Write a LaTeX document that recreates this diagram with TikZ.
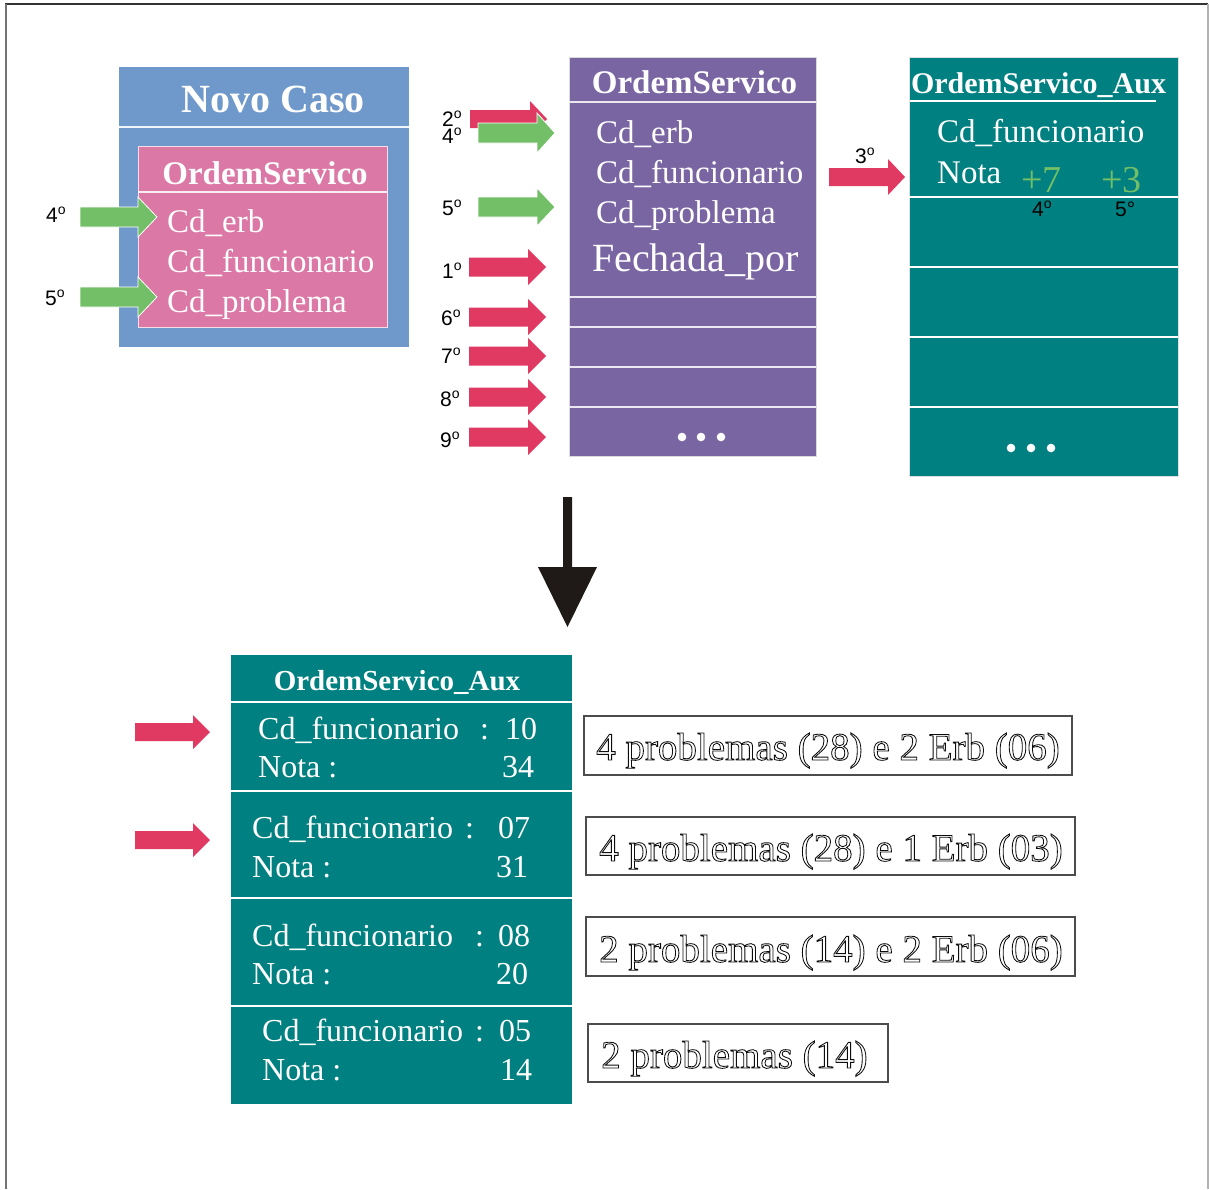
\documentclass[tikz,border=0pt]{standalone}
\usepackage{fontspec}
\setmainfont{Liberation Serif}
\newfontfamily\labelfont{Liberation Sans}

\definecolor{novoblue}{RGB}{111,152,203}
\definecolor{rosa}{RGB}{219,120,165}
\definecolor{roxo}{RGB}{122,101,163}
\definecolor{verdeagua}{RGB}{0,128,128}
\definecolor{seta}{RGB}{224,58,99}
\definecolor{verde}{RGB}{114,191,103}
\definecolor{quasepreto}{RGB}{31,26,23}

% ordinal sign drawn as a raised small o
\newcommand\ordo{\raisebox{7.6pt}{\fontsize{14}{14}\selectfont o}}
% outlined (hollow) text through the PDF text render mode
\newcommand\hollow[1]{\special{pdf:literal direct 1 Tr 0.85 w 0.05 G}#1\special{pdf:literal direct 0 Tr 0 G}}
% horizontal block arrow: style, x start, x head base, x tip, y centre, shaft half, head half
\newcommand\blockarrow[7]{\fill[#1] (#2,#5-#6) -- (#3,#5-#6) -- (#3,#5-#7) -- (#4,#5) -- (#3,#5+#7) -- (#3,#5+#6) -- (#2,#5+#6) -- cycle;}

\tikzset{
  fieldtxt/.style={text=white, inner sep=0pt, anchor=base west, font=\fontsize{33}{36}\selectfont},
  rowtxt/.style={text=white, inner sep=0pt, anchor=base west, font=\fontsize{32}{35}\selectfont},
  titletxt/.style={text=white, inner sep=0pt, anchor=base, font=\bfseries\fontsize{33}{36}\selectfont},
  ordlabel/.style={inner sep=0pt, anchor=base west, font=\labelfont\fontsize{21}{23}\selectfont},
  sepline/.style={white, line width=2pt},
  redarrow/.style={seta},
  greenarrow/.style={verde, draw=white, line width=0.8pt},
  notebox/.style={draw=black!70, line width=1.1pt},
  notetxt/.style={inner sep=0pt, anchor=base west, font=\fontsize{39}{41}\selectfont},
  dot/.style={white},
}

\begin{document}
\begin{tikzpicture}[x=1pt,y=-1pt]
\useasboundingbox (0,0) rectangle (1209,1189);

% page frame
\draw[black!80, line width=1.4pt] (5,4) -- (1208,4);
\draw[black!55, line width=2pt] (6,4) -- (6,1189);
\draw[black!30, line width=1.4pt] (1208,4) -- (1208,1189);

% ---- Novo Caso ----
\fill[novoblue] (119,67) rectangle (409,347);
\draw[white!90!novoblue, line width=1.5pt] (119,127) -- (409,127);
\node[titletxt, font=\bfseries\fontsize{40}{44}\selectfont] (novo) at (273,112) {Novo Caso};
\fill[rosa, draw=white!75!rosa, line width=1pt] (138,146) rectangle (387,327);
\draw[white!85!rosa, line width=1.5pt] (138,192) -- (387,192);
\node[titletxt] (osA) at (265,184) {OrdemServico};
\node[fieldtxt] (aErb) at (167,232) {Cd\_erb};
\node[fieldtxt] (aFunc) at (167,272) {Cd\_funcionario};
\node[fieldtxt] (aProb) at (167,312) {Cd\_problema};
\blockarrow{greenarrow}{80}{138}{157}{217}{10}{20}
\blockarrow{greenarrow}{80}{138}{157}{297}{10}{20}
\node[ordlabel] (l4a) at (46,222) {4\ordo};
\node[ordlabel] (l5a) at (45,305) {5\ordo};

% ---- OrdemServico ----
\fill[roxo, draw=black!15, line width=0.8pt] (569,57) rectangle (816,456);
\foreach \yy in {102,297,327,367,407}
  \draw[white!85!roxo, line width=2pt] (569,\yy) -- (816,\yy);
\node[titletxt] (osB) at (694.5,93) {OrdemServico};
\node[fieldtxt] (bErb) at (596,143) {Cd\_erb};
\node[fieldtxt] (bFunc) at (596,183) {Cd\_funcionario};
\node[fieldtxt] (bProb) at (596,223) {Cd\_problema};
\node[fieldtxt, font=\fontsize{40}{44}\selectfont] (bFech) at (592,271) {Fechada\_por};
\foreach \xx in {682,701,721} \fill[dot] (\xx,437) circle (4.3);

\blockarrow{redarrow}{470}{530}{547}{119}{9}{18}
\blockarrow{greenarrow}{478}{537}{555}{133}{10}{20}
\blockarrow{greenarrow}{478}{537}{555}{207}{10}{19}
\blockarrow{redarrow}{469}{528}{546}{267}{9.5}{18}
\blockarrow{redarrow}{469}{528}{546}{317}{9.5}{18}
\blockarrow{redarrow}{469}{528}{546}{356}{9.5}{18}
\blockarrow{redarrow}{469}{528}{546}{397}{9.5}{18}
\blockarrow{redarrow}{469}{528}{546}{437}{9.5}{18}
\node[ordlabel] (l2) at (442,126) {2\ordo};
\node[ordlabel] (l4b) at (442,143) {4\ordo};
\node[ordlabel] (l5b) at (442,215) {5\ordo};
\node[ordlabel] (l1) at (442,278) {1\ordo};
\node[ordlabel] (l6) at (441,325) {6\ordo};
\node[ordlabel] (l7) at (441,363) {7\ordo};
\node[ordlabel] (l8) at (440,406) {8\ordo};
\node[ordlabel] (l9) at (440,447) {9\ordo};

% ---- OrdemServico_Aux (upper) ----
\blockarrow{redarrow}{829}{888}{905}{177}{9}{18}
\node[ordlabel] (l3) at (855,163) {3\ordo};
\fill[verdeagua, draw=black!12, line width=0.8pt] (909,57) rectangle (1178,476);
\draw[sepline] (910,101) -- (1156,101);
\foreach \yy in {197,267,337,407}
  \draw[sepline] (909,\yy) -- (1178,\yy);
\node[titletxt, font=\bfseries\fontsize{30}{33}\selectfont] (auxA) at (1038.5,93) {OrdemServico\_Aux};
\node[fieldtxt] (cFunc) at (937,142) {Cd\_funcionario};
\node[fieldtxt] (cNota) at (937,183) {Nota};
\node[fieldtxt, text=verde, font=\fontsize{38}{40}\selectfont] (mais7) at (1021,192) {+7};
\node[fieldtxt, text=verde, font=\fontsize{38}{40}\selectfont] (mais3) at (1101,192) {+3};
\node[ordlabel] (l4c) at (1032,216) {4\ordo};
\node[ordlabel] (l5c) at (1115,216) {5°};
\foreach \xx in {1011,1031,1051} \fill[dot] (\xx,448) circle (4.3);

% ---- result arrow ----
\fill[quasepreto] (563,497) -- (572,497) -- (572,567) -- (597,567) -- (567.5,627) -- (538,567) -- (563,567) -- cycle;

% ---- OrdemServico_Aux (sorted) ----
\fill[verdeagua] (231,655) rectangle (572,1104);
\foreach \yy in {702,791,898,1006}
  \draw[sepline] (231,\yy) -- (572,\yy);
\node[titletxt, font=\bfseries\fontsize{29}{32}\selectfont] (auxB) at (397,690) {OrdemServico\_Aux};

\node[rowtxt] (f1) at (258,739) {Cd\_funcionario};
\node[rowtxt] (c1) at (480,739) {:};
\node[rowtxt] (v1) at (505,739) {10};
\node[rowtxt] (n1) at (258,777) {Nota :};
\node[rowtxt] (s1) at (502,777) {34};

\node[rowtxt] (f2) at (252,838) {Cd\_funcionario};
\node[rowtxt] (c2) at (465,838) {:};
\node[rowtxt] (v2) at (498,838) {07};
\node[rowtxt] (n2) at (252,877) {Nota :};
\node[rowtxt] (s2) at (496,877) {31};

\node[rowtxt] (f3) at (252,946) {Cd\_funcionario};
\node[rowtxt] (c3) at (475,946) {:};
\node[rowtxt] (v3) at (498,946) {08};
\node[rowtxt] (n3) at (252,984) {Nota :};
\node[rowtxt] (s3) at (496,984) {20};

\node[rowtxt] (f4) at (262,1041) {Cd\_funcionario};
\node[rowtxt] (c4) at (475,1041) {:};
\node[rowtxt] (v4) at (499,1041) {05};
\node[rowtxt] (n4) at (262,1080) {Nota :};
\node[rowtxt] (s4) at (500,1080) {14};

\blockarrow{redarrow}{135}{193}{210}{732}{9}{17}
\blockarrow{redarrow}{135}{193}{210}{840}{9}{17}

% ---- notes ----
\draw[notebox] (584,716) rectangle (1072,775);
\draw[notebox] (586,817) rectangle (1075,875);
\draw[notebox] (586,917) rectangle (1075,976);
\draw[notebox] (588,1024) rectangle (888,1082);
\node[notetxt] (t1) at (596,760) {\hollow{4 problemas (28) e 2 Erb (06)}};
\node[notetxt] (t2) at (599,861) {\hollow{4 problemas (28) e 1 Erb (03)}};
\node[notetxt] (t3) at (599,962) {\hollow{2 problemas (14) e 2 Erb (06)}};
\node[notetxt] (t4) at (601,1068) {\hollow{2 problemas (14)}};
\end{tikzpicture}
\end{document}
